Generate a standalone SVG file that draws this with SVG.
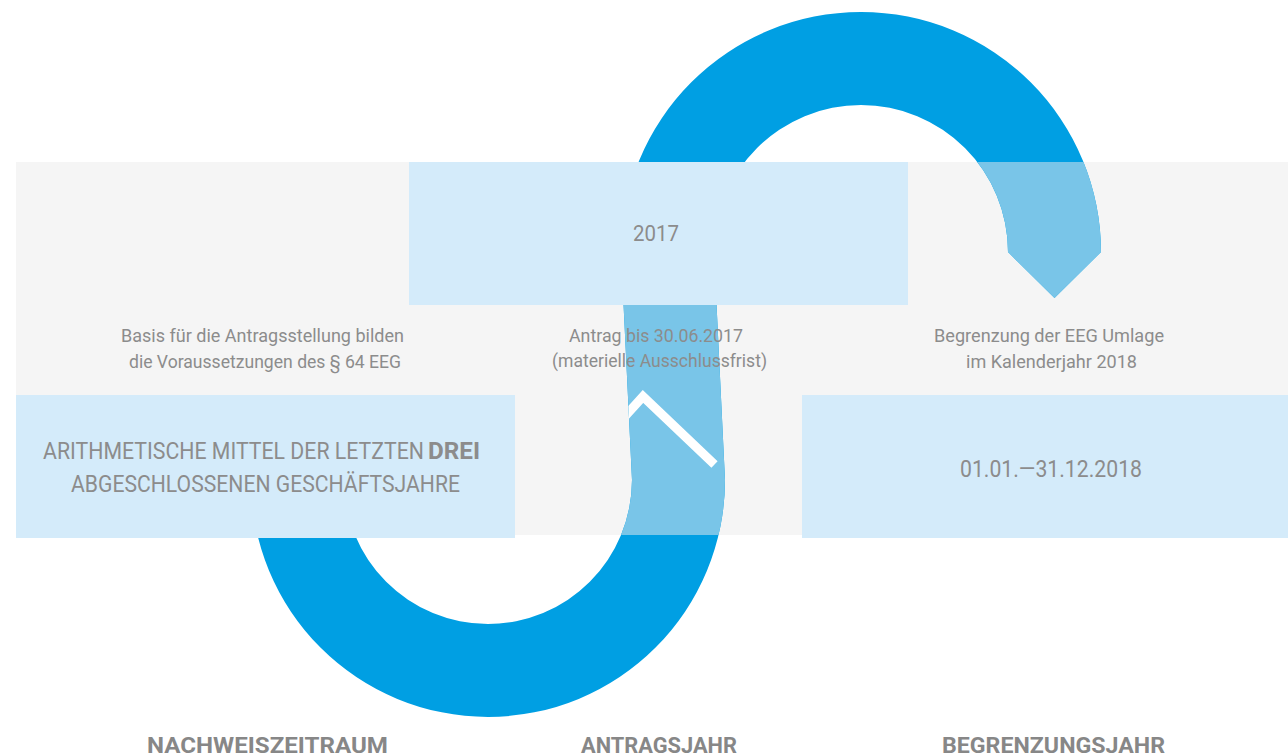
<svg xmlns="http://www.w3.org/2000/svg" width="1288" height="756" viewBox="0 0 1288 756">
<defs>
<style>
.t{font-family:Roboto,"Liberation Sans","DejaVu Sans",sans-serif;fill:#8c8c8c;}
.s{font-size:18px;}
.m{font-size:23px;}
.h{font-size:22px;font-weight:bold;fill:#878787;}
.box{fill:#d4ebfa;}
</style>
<path id="S" d="M1008,252 A147,147 0 0 0 714,252 L725,480 A237,237 0 0 1 251,480 L251,430 L344,430 L344,480 A144,144 0 0 0 632,480 L621,252 A240,240 0 0 1 1101,252 L1054.5,298 Z"/>
<clipPath id="bandClip"><rect x="16" y="162" width="1272" height="373"/></clipPath>
<clipPath id="sClip"><use href="#S"/></clipPath>
</defs>
<rect width="1288" height="756" fill="#ffffff"/>
<g id="band"><rect x="16" y="162" width="1272" height="373" fill="#f5f5f5"/></g>
<g id="connectors">
<use href="#S" fill="#009fe3"/>
<use href="#S" fill="#79c5e8" clip-path="url(#bandClip)"/>
<g clip-path="url(#sClip)"><polyline points="618,424 643,396.5 714.5,464.5" fill="none" stroke="#ffffff" stroke-width="9" stroke-linejoin="miter"/></g>
</g>
<g id="node-2017">
<rect class="box" x="409" y="162" width="499" height="143"/>
<text class="t" x="656" y="241" font-size="22" text-anchor="middle" textLength="46" lengthAdjust="spacingAndGlyphs">2017</text>
</g>
<g id="node-nachweis">
<rect class="box" x="16" y="395" width="499" height="143"/>
<text class="t m" transform="translate(43,459) scale(0.926,1)" x="0" y="0">ARITHMETISCHE MITTEL DER LETZTEN</text>
<text class="t m" x="428" y="459" font-weight="bold" textLength="52" lengthAdjust="spacingAndGlyphs">DREI</text>
<text class="t m" x="71" y="492" textLength="389" lengthAdjust="spacingAndGlyphs">ABGESCHLOSSENEN GESCHÄFTSJAHRE</text>
</g>
<g id="node-begrenzung">
<rect class="box" x="802" y="395" width="486" height="143"/>
<text class="t m" x="960" y="477" textLength="182" lengthAdjust="spacingAndGlyphs">01.01.—31.12.2018</text>
</g>
<g id="desc-left">
<text class="t s" x="121" y="342" textLength="283" lengthAdjust="spacingAndGlyphs">Basis für die Antragsstellung bilden</text>
<text class="t s" x="129" y="368" textLength="272" lengthAdjust="spacingAndGlyphs">die Voraussetzungen des § 64 EEG</text>
</g>
<g id="desc-middle">
<text class="t s" x="569" y="342" textLength="174" lengthAdjust="spacingAndGlyphs">Antrag bis 30.06.2017</text>
<text class="t s" x="552" y="367" textLength="215" lengthAdjust="spacingAndGlyphs">(materielle Ausschlussfrist)</text>
</g>
<g id="desc-right">
<text class="t s" x="934" y="342" textLength="230" lengthAdjust="spacingAndGlyphs">Begrenzung der EEG Umlage</text>
<text class="t s" x="966" y="368" textLength="171" lengthAdjust="spacingAndGlyphs">im Kalenderjahr 2018</text>
</g>
<g id="labels">
<text class="t h" x="147" y="753" textLength="241" lengthAdjust="spacingAndGlyphs">NACHWEISZEITRAUM</text>
<text class="t h" x="581" y="753" textLength="156" lengthAdjust="spacingAndGlyphs">ANTRAGSJAHR</text>
<text class="t h" x="942" y="753" textLength="223" lengthAdjust="spacingAndGlyphs">BEGRENZUNGSJAHR</text>
</g>
</svg>
